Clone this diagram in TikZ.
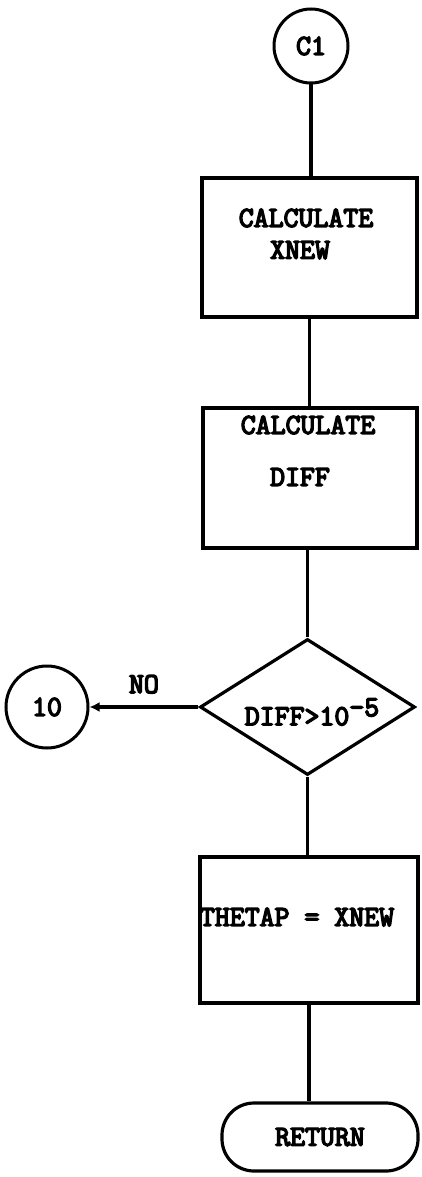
\documentclass[tikz,border=0pt]{standalone}
\usepackage{fontspec}
\setmonofont[FakeBold=5]{Latin Modern Mono}
\usetikzlibrary{arrows.meta,positioning,calc,shapes.geometric}

\begin{document}
\begin{tikzpicture}[x=1pt,y=-1pt,
    flow/.style={line width=3.2pt},
    connector/.style={circle, draw, line width=3pt, inner sep=0pt},
    process/.style={rectangle, draw, line width=3.2pt, inner sep=0pt},
    decision/.style={diamond, draw, line width=3.2pt, inner sep=0pt,
        minimum width=215pt, minimum height=136pt},
    terminal/.style={rectangle, rounded corners=32pt, draw, line width=3.2pt,
        minimum width=196pt, minimum height=68pt, inner sep=0pt},
    lbl/.style={font=\ttfamily\fontsize{29}{32}\selectfont, inner sep=0pt}]
    \useasboundingbox (0,0) rectangle (422,1177);

    % Entry connector
    \node[connector, minimum size=74pt, lbl] (c1) at (311,46) {C1};

    % Process boxes
    \node[process, minimum width=215pt, minimum height=139pt] (xnew) at (309.5,247.5) {};
    \node[lbl] (xnewa) at (306,218) {CALCULATE};
    \node[lbl] (xnewb) at (300,250) {XNEW};

    \node[process, minimum width=214pt, minimum height=140pt] (diff) at (310,478) {};
    \node[lbl] (diffa) at (308,425) {CALCULATE};
    \node[lbl] (diffb) at (300,477) {DIFF};

    % Test and loop back
    \node[decision] (test) at (307.5,707) {};
    \node[lbl] (testt) at (312,712) {DIFF>10\raisebox{9pt}{-5}};
    \node[connector, minimum size=82pt, lbl] (ten) at (47,707) {10};

    \node[process, minimum width=218pt, minimum height=146pt] (theta) at (309,930) {};
    \node[lbl] (thetat) at (297,917) {THETAP = XNEW};

    \node[terminal, lbl] (ret) at (320,1137) {RETURN};

    % Flow lines
    \draw[flow] (c1) -- (c1 |- xnew.north);
    \draw[flow] (xnew.south) -- (xnew.south |- diff.north);
    \draw[flow] (test.north |- diff.south) -- (test.north);
    \draw[flow] (test.south) -- (test.south |- theta.north);
    \draw[flow] (theta.south) -- (theta.south |- ret.north);
    \draw[flow, -{Latex[length=10pt,width=10pt]}] (test.west) -- node[lbl, above=12pt] (no) {NO} (ten);
\end{tikzpicture}
\end{document}
